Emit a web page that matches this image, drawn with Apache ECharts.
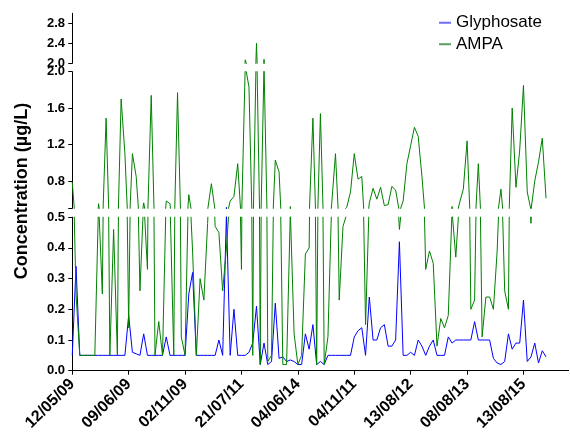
<!DOCTYPE html>
<html>
<head>
<meta charset="utf-8">
<script src="https://cdn.jsdelivr.net/npm/echarts@6/dist/echarts.min.js"></script>
<style>
  html, body { margin: 0; padding: 0; background: #fff; }
  #chart { width: 570px; height: 441px; }
</style>
</head>
<body>
<div id="chart"></div>
<script>
// 数据
//-----

// 横轴刻度（样本序号）与标签
var tickIndex = [0, 15, 30, 45, 60, 75, 90, 105, 120];
var tickLabels = ['12/05/09', '09/06/09', '02/11/09', '21/07/11', '04/06/14',
                  '04/11/11', '13/08/12', '08/08/13', '13/08/15'];

// 草甘膦浓度 (µg/L)
var glyphosate = [
  0.05, 0.34, 0.05, 0.05, 0.05, 0.05, 0.05, 0.05, 0.05, 0.05,
  0.05, 0.05, 0.05, 0.05, 0.05, 0.18, 0.06, 0.055, 0.05, 0.12,
  0.05, 0.05, 0.05, 0.05, 0.05, 0.11, 0.05, 0.05, 0.05, 0.05,
  0.05, 0.25, 0.32, 0.05, 0.05, 0.05, 0.05, 0.05, 0.05, 0.10,
  0.05, 0.51, 0.05, 0.20, 0.05, 0.05, 0.05, 0.06, 0.09, 0.21,
  0.02, 0.09, 0.02, 0.03, 0.22, 0.04, 0.045, 0.03, 0.035, 0.03,
  0.02, 0.02, 0.12, 0.07, 0.15, 0.02, 0.03, 0.02, 0.05, 0.05,
  0.05, 0.05, 0.05, 0.05, 0.05, 0.11, 0.13, 0.14, 0.05, 0.24,
  0.10, 0.10, 0.14, 0.15, 0.08, 0.08, 0.10, 0.42, 0.05, 0.05,
  0.06, 0.05, 0.10, 0.08, 0.05, 0.08, 0.10, 0.05, 0.05, 0.05,
  0.11, 0.09, 0.10, 0.10, 0.10, 0.10, 0.10, 0.16, 0.10, 0.10,
  0.10, 0.10, 0.04, 0.025, 0.02, 0.03, 0.12, 0.07, 0.09, 0.09,
  0.23, 0.03, 0.045, 0.09, 0.025, 0.065, 0.045
];

// AMPA 浓度 (µg/L)
var ampa = [
  0.79, 0.25, 0.05, 0.05, 0.05, 0.05, 0.05, 0.55, 0.25, 1.49,
  0.05, 0.46, 0.05, 1.70, 1.10, 0.14, 1.10, 0.85, 0.26, 0.56,
  0.33, 1.74, 0.05, 0.16, 0.05, 0.58, 0.55, 0.05, 1.77, 0.11,
  0.05, 0.65, 0.39, 0.05, 0.30, 0.23, 0.48, 0.77, 0.47, 0.45,
  0.26, 0.40, 0.58, 0.63, 0.99, 0.33, 2.07, 1.83, 0.05, 2.40,
  0.02, 2.08, 0.03, 0.05, 1.03, 0.90, 0.02, 0.02, 0.52, 0.12,
  0.02, 0.05, 0.38, 0.40, 1.49, 0.02, 1.54, 0.02, 0.11, 0.55,
  1.10, 0.23, 0.47, 0.51, 0.68, 1.10, 0.82, 0.85, 0.15, 0.56,
  0.72, 0.60, 0.73, 0.53, 0.54, 0.74, 0.70, 0.46, 0.58, 0.99,
  1.19, 1.39, 1.29, 0.85, 0.33, 0.39, 0.35, 0.08, 0.17, 0.14,
  0.18, 0.52, 0.37, 0.56, 0.71, 1.24, 0.20, 0.23, 0.99, 0.11,
  0.24, 0.24, 0.20, 0.39, 0.71, 0.26, 0.20, 1.60, 0.73, 1.14,
  1.85, 0.68, 0.48, 0.80, 1.01, 1.27, 0.61
];

// 断轴的三段纵轴
var topTicks = [2.0, 2.4, 2.8];
var midTicks = [0.5, 0.8, 1.2, 1.6, 2.0];
var midLabels = [0.8, 1.2, 1.6, 2.0];


// 图表
//-----
var toPairs = function(arr) {
  return arr.map(function(v, i) { return [i, v]; });
};
var glyData = toPairs(glyphosate);
var ampaData = toPairs(ampa);

var fontFamily = '"Liberation Sans", Arial, sans-serif';
var axisColor = '#000';

// 三个网格：上、中、下
var grids = [
  { left: 70, right: 1.4, top: 13.3, height: 50 },
  { left: 70, right: 1.4, top: 71.7, height: 136.6 },
  { left: 70, right: 1.4, top: 217.2, height: 153.5 }
];

var xAxes = [0, 1, 2].map(function(g) {
  var isBottom = g === 2;
  return {
    type: 'value',
    gridIndex: g,
    min: -0.6,
    max: 132,
    show: isBottom,
    splitLine: { show: false },
    axisLine: { show: isBottom, onZero: false, lineStyle: { color: axisColor, width: 1 } },
    axisTick: {
      show: isBottom,
      length: 4,
      customValues: tickIndex,
      lineStyle: { color: axisColor }
    },
    axisLabel: {
      show: isBottom,
      customValues: tickIndex,
      rotate: 45,
      margin: 11,
      color: '#000',
      fontFamily: fontFamily,
      fontWeight: 'bold',
      fontSize: 16,
      formatter: function(v) {
        var k = tickIndex.indexOf(Math.round(v));
        return k >= 0 ? tickLabels[k] : '';
      }
    }
  };
});

var yLabelStyle = {
  color: '#000',
  fontFamily: fontFamily,
  fontWeight: 'bold',
  fontSize: 13,
  margin: 5,
  formatter: function(v) { return Number(v).toFixed(1); }
};

var yAxes = [
  {
    type: 'value', gridIndex: 0, min: 2.0, max: 3.0,
    splitLine: { show: false },
    axisLine: { show: true, lineStyle: { color: axisColor } },
    axisTick: { length: 4, customValues: topTicks, lineStyle: { color: axisColor } },
    axisLabel: Object.assign({ customValues: topTicks }, yLabelStyle)
  },
  {
    type: 'value', gridIndex: 1, min: 0.5, max: 2.0,
    splitLine: { show: false },
    axisLine: { show: true, lineStyle: { color: axisColor } },
    axisTick: { length: 4, customValues: midTicks, lineStyle: { color: axisColor } },
    axisLabel: Object.assign({ customValues: midLabels }, yLabelStyle)
  },
  {
    type: 'value', gridIndex: 2, min: 0, max: 0.5, interval: 0.1,
    splitLine: { show: false },
    axisLine: { show: true, lineStyle: { color: axisColor } },
    axisTick: { length: 4, lineStyle: { color: axisColor } },
    axisLabel: yLabelStyle
  }
];

var series = [];
[0, 1, 2].forEach(function(g) {
  series.push({
    name: 'Glyphosate', type: 'line', xAxisIndex: g, yAxisIndex: g,
    data: glyData, symbol: 'none', clip: true,
    itemStyle: { color: '#0000ff' },
    lineStyle: { color: '#0000ff', width: 1 }
  });
  series.push({
    name: 'AMPA', type: 'line', xAxisIndex: g, yAxisIndex: g,
    data: ampaData, symbol: 'none', clip: true,
    itemStyle: { color: '#008000' },
    lineStyle: { color: '#008000', width: 1 }
  });
});

var myChart = echarts.init(document.getElementById('chart'));
var option = {
  animation: false,
  backgroundColor: '#fff',
  grid: grids,
  xAxis: xAxes,
  yAxis: yAxes,
  legend: {
    data: [
      { name: 'Glyphosate', itemStyle: { color: '#6f6fff' } },
      { name: 'AMPA', itemStyle: { color: '#5c9e5c' } }
    ],
    orient: 'vertical',
    left: 434,
    top: 7,
    icon: 'rect',
    itemWidth: 12,
    itemHeight: 2,
    itemGap: 0,
    textStyle: { color: '#000', fontFamily: fontFamily, fontSize: 17, lineHeight: 21.5 }
  },
  graphic: [{
    type: 'text',
    x: 22,
    y: 191,
    rotation: Math.PI / 2,
    style: {
      text: 'Concentration (µg/L)',
      fill: '#000',
      font: 'bold 18px ' + fontFamily,
      align: 'center',
      verticalAlign: 'middle'
    }
  }],
  series: series
};
myChart.setOption(option);
</script>
</body>
</html>
